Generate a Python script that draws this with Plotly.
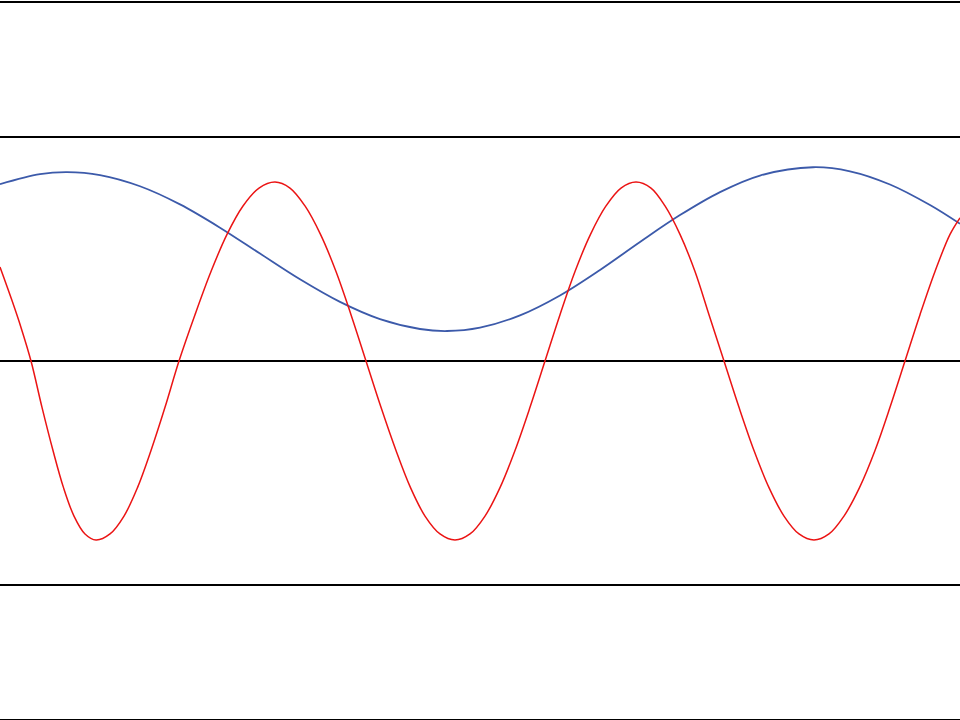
import plotly.graph_objects as go

# positions along the line (same scale for both waves)
red_x = [0, 0.12, 0.21, 0.31, 0.42, 0.53, 0.635, 0.74, 0.85, 0.96,
         1.10, 1.24, 1.375, 1.51, 1.65, 1.79,
         1.95, 2.11, 2.27, 2.43, 2.59, 2.75,
         2.90, 3.05, 3.205, 3.36, 3.51, 3.66,
         3.81, 3.96, 4.105, 4.25, 4.40, 4.55,
         4.70, 4.85, 5.00, 5.15, 5.30, 5.45,
         5.60, 5.75, 5.905, 6.06, 6.21, 6.36,
         6.51, 6.65, 6.80, 6.95, 7.09, 7.24,
         7.39, 7.54, 7.69, 7.84, 7.99, 8.14,
         8.29, 8.44, 8.595, 8.75, 8.90, 9.05,
         9.20, 9.35, 9.50, 9.60]
red_y = [0.42, 0.27, 0.15, 0.0, -0.207, -0.4, -0.566, -0.693, -0.773, -0.8,
         -0.773, -0.693, -0.566, -0.4, -0.207, 0.0,
         0.207, 0.4, 0.566, 0.693, 0.773, 0.8,
         0.773, 0.693, 0.566, 0.4, 0.207, 0.0,
         -0.207, -0.4, -0.566, -0.693, -0.773, -0.8,
         -0.773, -0.693, -0.566, -0.4, -0.207, 0.0,
         0.207, 0.4, 0.566, 0.693, 0.773, 0.8,
         0.773, 0.693, 0.566, 0.4, 0.207, 0.0,
         -0.207, -0.4, -0.566, -0.693, -0.773, -0.8,
         -0.773, -0.693, -0.566, -0.4, -0.207, 0.0,
         0.207, 0.4, 0.566, 0.64]

blue_x = [0, 0.4, 0.67, 1.0, 1.4, 1.8, 2.2, 2.6, 3.0, 3.4, 3.8, 4.2, 4.47,
          4.8, 5.2, 5.6, 6.0, 6.4, 6.8, 7.2, 7.6, 8.13, 8.5, 8.9, 9.3, 9.6]
blue_y = [0.79, 0.835, 0.844, 0.831, 0.781, 0.70, 0.596, 0.48, 0.365, 0.264,
          0.187, 0.143, 0.134, 0.149, 0.204, 0.293, 0.407, 0.532, 0.652,
          0.755, 0.829, 0.866, 0.848, 0.789, 0.697, 0.613]

grid_vals = [-1, 0, 1]

fig = go.Figure()
fig.add_trace(go.Scatter(x=blue_x, y=blue_y, mode='lines',
                         line=dict(color='rgb(60,90,170)', width=1.8,
                                   shape='spline', smoothing=1.0),
                         hoverinfo='none'))
fig.add_trace(go.Scatter(x=red_x, y=red_y, mode='lines',
                         line=dict(color='rgb(235,20,20)', width=1.5,
                                   shape='spline', smoothing=1.0),
                         hoverinfo='none'))

fig.update_layout(
    width=960, height=720,
    showlegend=False,
    margin=dict(l=0, r=0, t=3, b=1),
    paper_bgcolor='white',
    plot_bgcolor='white',
    xaxis=dict(range=[0, 9.6], showgrid=False, zeroline=False,
               showticklabels=False, ticks='',
               showline=True, mirror=True, linecolor='black', linewidth=2),
    yaxis=dict(range=[-1.6, 1.6], tickvals=grid_vals, showgrid=True,
               gridcolor='black', gridwidth=2, zeroline=False,
               showticklabels=False, ticks='', showline=False),
)

# drop the page's default body margin so the chart fills the window
fig.write_html("out.html", config={'displayModeBar': False},
               post_script="document.body.style.margin='0';")
